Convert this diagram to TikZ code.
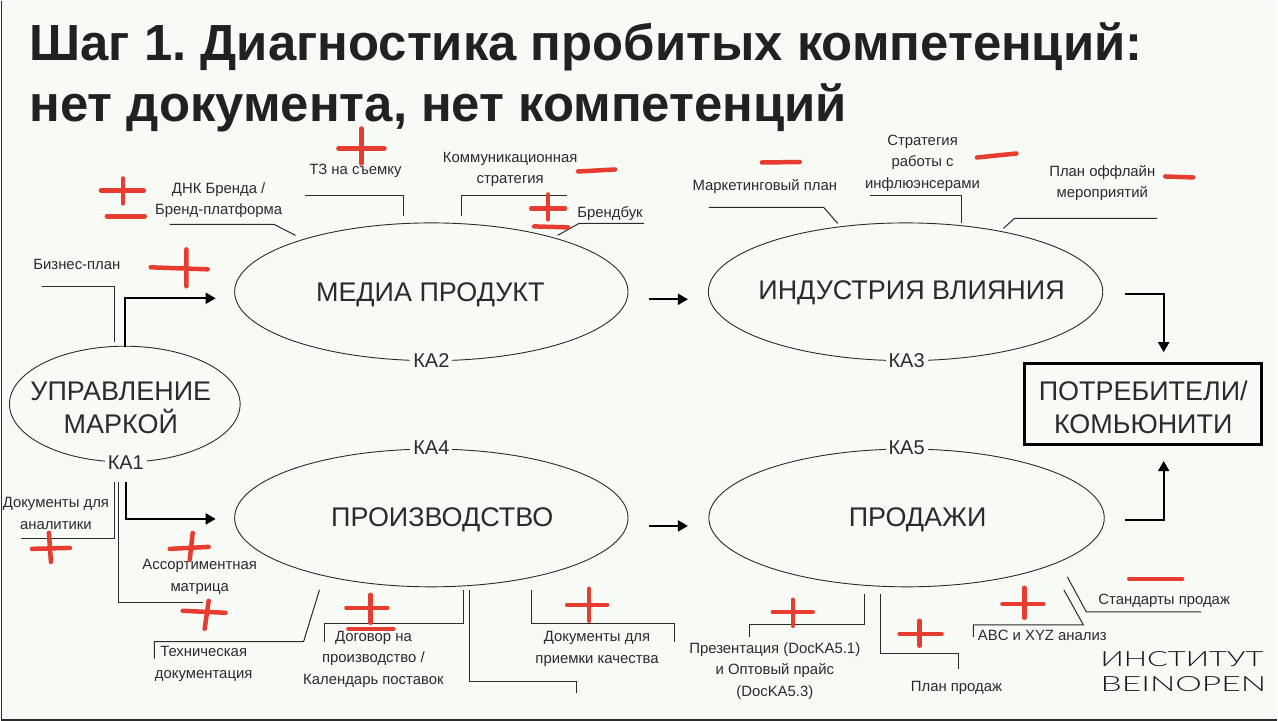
\documentclass[tikz,border=0pt]{standalone}
\usepackage{fontspec}
\setmainfont{Liberation Sans}
\newfontfamily\logofont{Lato}[UprightFont=* Light]
\usepackage{xcolor}
\usetikzlibrary{shapes.geometric, arrows.meta, positioning}
\definecolor{slidebg}{HTML}{F8FAF6}
\definecolor{markred}{HTML}{E73C30}
\definecolor{inkgrey}{HTML}{2B2B2B}

\begin{document}
\frenchspacing
\begin{tikzpicture}[
    x=1pt, y=-1pt,
    process/.style={ellipse, draw=inkgrey, line width=0.9pt, inner sep=0pt},
    proctext/.style={font=\fontsize{27}{33}\selectfont, text=inkgrey, align=center},
    katext/.style={fill=slidebg, inner sep=3pt, font=\fontsize{20}{22}\selectfont, text=inkgrey},
    doc/.style={font=\fontsize{14.9}{21.5}\selectfont, text=inkgrey, align=center, inner sep=0pt},
    leader/.style={draw=inkgrey, line width=1pt},
    flow/.style={draw=black, line width=2pt, -{Triangle[length=10pt,width=11pt]}},
    redstroke/.style={draw=markred, line width=4.5pt, line cap=round},
    heading/.style={anchor=base west, inner sep=0pt, font=\fontsize{50.9}{58}\selectfont\bfseries, text=black!87},
    logo/.style={anchor=base west, inner sep=0pt, font=\logofont\fontsize{21}{24}\selectfont, text=black!90}
]

% Page
\fill[slidebg] (0,0) rectangle (1278,721);
\draw[inkgrey, line width=1.5pt] (0.5,0) -- (0.5,720);
\draw[inkgrey, line width=2pt] (0,720) -- (1278,720);

% Title
\node[heading] (title1) at (28.5,60) {Шаг 1. Диагностика пробитых компетенций:};
\node[heading] (title2) at (28.5,120.5) {нет документа, нет компетенций};

% Process ellipses
\node[process, minimum width=231pt, minimum height=116pt] (brand) at (124,404) {};
\node[process, minimum width=394pt, minimum height=138pt] (media) at (431,291.5) {};
\node[process, minimum width=395pt, minimum height=138pt] (industry) at (906,291.5) {};
\node[process, minimum width=394pt, minimum height=138pt] (factory) at (431,518) {};
\node[process, minimum width=396pt, minimum height=138pt] (sales) at (907,518) {};

\node[proctext] (brandtext) at (120,407.5) {УПРАВЛЕНИЕ\\МАРКОЙ};
\node[proctext] (mediatext) at (430,294) {МЕДИА ПРОДУКТ};
\node[proctext] (industrytext) at (912,292.5) {ИНДУСТРИЯ ВЛИЯНИЯ};
\node[proctext] (factorytext) at (442,520) {ПРОИЗВОДСТВО};
\node[proctext] (salestext) at (918,520) {ПРОДАЖИ};

\node[katext] (ka1) at (125,462.5) {КА1};
\node[katext] (ka2) at (431,360.5) {КА2};
\node[katext] (ka3) at (907,360.5) {КА3};
\node[katext] (ka4) at (431,447.5) {КА4};
\node[katext] (ka5) at (907,447.5) {КА5};

% Result box
\node[rectangle, draw=black, line width=3pt, minimum width=237pt, minimum height=81pt] (clients) at (1144,404) {};
\node[proctext] (clientstext) at (1144,407) {ПОТРЕБИТЕЛИ/\\КОМЬЮНИТИ};

% Arrow ends
\coordinate (brandup) at (124,347);
\coordinate (mediain) at (215,298);
\coordinate (branddown) at (125,482);
\coordinate (factoryin) at (215,519);
\coordinate (mediaout) at (649,299);
\coordinate (industryin) at (688,299);
\coordinate (factoryout) at (649,526);
\coordinate (salesin) at (688,526);
\coordinate (industryout) at (1126,294);
\coordinate (salesout) at (1126,520);
\coordinate (clientstop) at (1164.5,352);
\coordinate (clientsbottom) at (1164.5,461);

% Arrows
\draw[flow] (brandup) |- (mediain);
\draw[flow] (branddown) |- (factoryin);
\draw[flow] (mediaout) -- (industryin);
\draw[flow] (factoryout) -- (salesin);
\draw[flow] (industryout) -| (clientstop);
\draw[flow] (salesout) -| (clientsbottom);

% Documents, top
\node[doc] (plan) at (76,264.5) {Бизнес-план};
\node[doc] (dna) at (218,199.5) {ДНК Бренда /\\Бренд-платформа};
\node[doc] (brief) at (355,170) {ТЗ на съемку};
\node[doc] (comm) at (510,169) {Коммуникационная\\стратегия};
\node[doc] (book) at (610,213) {Брендбук};
\node[doc] (market) at (765,186) {Маркетинговый план};
\node[doc] (influence) at (923,162.5) {Стратегия\\работы с\\инфлюэнсерами};
\node[doc] (offline) at (1103,182.5) {План оффлайн\\мероприятий};

% Documents, bottom
\node[doc] (analytics) at (55,513.5) {Документы для\\аналитики};
\node[doc] (matrix) at (199,577) {Ассортиментная\\матрица};
\node[doc] (tech) at (203,664) {Техническая\\документация};
\node[doc] (contract) at (373,659.5) {Договор на\\производство /\\Календарь поставок};
\node[doc] (quality) at (597,649) {Документы для\\приемки качества};
\node[doc] (deck) at (775,671) {Презентация (DocKA5.1)\\и Оптовый прайс\\(DocKA5.3)};
\node[doc] (salesplan) at (957,688) {План продаж};
\node[doc] (abc) at (1043,636) {ABC и XYZ анализ};
\node[doc] (standards) at (1165,601) {Стандарты продаж};

% Leader lines, top
\draw[leader] (41,286) -| (113.5,342);
\draw[leader] (169,224) -- (273.5,224) -- (295,235);
\draw[leader] (304,195) -| (403,216);
\draw[leader] (461,216) |- (567,195);
\draw[leader] (557.5,235) -- (579,223) -- (644,223);
\draw[leader] (709,207) -- (824,207) -- (838,223);
\draw[leader] (870,195) -| (962,223);
\draw[leader] (1004,228) -- (1015,218) -- (1158,218);

% Leader lines, bottom
\draw[leader] (113.5,482) |- (20,539);
\draw[leader] (118,482) |- (202,603);
\draw[leader] (319,590) -- (303,642) -- (153.5,642) -- (153.5,659);
\draw[leader] (463,590) |- (324.5,624) -- (324.5,642);
\draw[leader] (469,590) |- (576,682) -- (576,693);
\draw[leader] (531,590) |- (675,624) -- (675,642);
\draw[leader] (865,594) |- (750,625) -- (750,637);
\draw[leader] (881,594) |- (959,654) -- (959,669);
\draw[leader] (1064.5,590) -- (1084,625) -- (974,625) -- (974,637);
\draw[leader] (1068,577) -- (1087,612) -- (1202,612);

% Red marks, top
\draw[redstroke] (338,148) -- (384,148) (361,128) -- (361,163);
\draw[redstroke] (100,190) -- (143,190) (122,178) -- (122,203);
\draw[redstroke] (106,216) -- (144,216);
\draw[redstroke] (150,267) -- (207,269) (185.7,249) -- (185.7,286);
\draw[redstroke] (578,171) -- (615,169);
\draw[redstroke] (531,208) -- (565,208) (548,194) -- (548,219);
\draw[redstroke] (534,226) -- (568,227);
\draw[redstroke] (762,162) -- (800,161.5);
\draw[redstroke] (977.5,157) -- (1017,153);
\draw[redstroke] (1166,176) -- (1194,177);

% Red marks, bottom
\draw[redstroke] (31,549) -- (69,548) (48,533) -- (50,562);
\draw[redstroke] (169,549) -- (208,547) (192,533) -- (189,560);
\draw[redstroke] (182,611) -- (225,613) (208,601) -- (204,629);
\draw[redstroke] (346,608) -- (387,608) (370,595) -- (370,623);
\draw[redstroke] (348,629) -- (393,629);
\draw[redstroke] (567,605) -- (607,605) (589,589) -- (589,621);
\draw[redstroke] (773,612) -- (813,612) (793,600) -- (793,626);
\draw[redstroke] (900,634) -- (942,634) (920,621) -- (920,646);
\draw[redstroke] (1003,604) -- (1044,604) (1025,588) -- (1025,618);
\draw[redstroke] (1130,579) -- (1183,579);

% Logo
\node[logo, xscale=1.47] (logo1) at (1101,666.5) {ИНСТИТУТ};
\node[logo, xscale=1.6] (logo2) at (1101,691.5) {BEINOPEN};

\end{tikzpicture}
\end{document}
